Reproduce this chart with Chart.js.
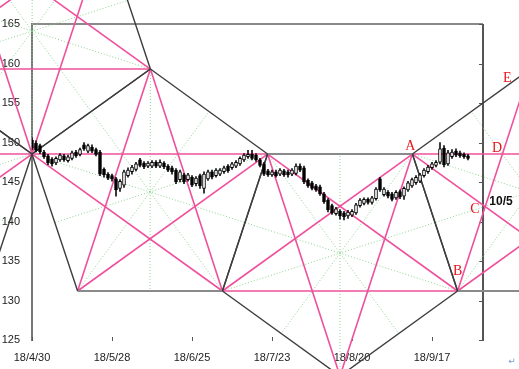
<!DOCTYPE html>
<html><head><meta charset="utf-8">
<style>html,body{margin:0;padding:0;background:#fff;}canvas{display:block;}</style>
<script src="https://cdn.jsdelivr.net/npm/chart.js@4.4.1/dist/chart.umd.min.js"></script>
</head><body>
<canvas id="c" width="519" height="369"></canvas>
<script>
// ---- data (trading-day index, price) ----
const tickDays = [0, 20, 40, 60, 80, 100];
const tickLabels = ['18/4/30', '18/5/28', '18/6/25', '18/7/23', '18/8/20', '18/9/17'];
const priceTicks = [125, 130, 135, 140, 145, 150, 155, 160, 165];

const open = [150.3,149.9,149.6,148.8,148.3,147.9,147.4,147.8,148.3,147.7,
  148.0,148.8,148.5,149.7,148.9,149.4,149.1,148.8,146.6,146.0,
  145.8,145.4,144.2,144.6,145.8,146.3,146.6,147.8,147.4,147.0,
  147.0,147.5,147.0,147.4,147.0,146.8,146.5,145.3,145.9,145.3,
  145.6,144.8,145.8,144.2,145.4,146.3,145.8,146.0,146.3,147.0,
  146.8,147.0,147.3,147.8,148.2,148.5,148.4,147.8,147.3,146.4,
  145.9,146.3,146.0,146.4,146.3,146.0,146.1,147.0,146.8,145.2,
  144.9,144.5,144.4,143.5,142.7,142.0,141.0,141.3,141.1,140.7,
  140.8,141.1,142.0,142.3,142.8,142.4,142.9,145.4,143.4,143.7,
  143.5,143.0,143.8,143.2,144.0,144.5,144.9,145.1,145.8,146.3,
  146.8,147.1,147.5,149.3,147.3,148.2,148.9,148.7,148.5,148.3];
const high = [150.6,150.2,149.8,149.0,148.5,148.1,148.2,148.6,148.5,148.4,
  148.9,149.0,149.3,150.0,149.8,149.7,149.3,149.0,146.8,146.2,
  146.0,145.6,145.3,146.5,146.8,147.1,147.5,148.0,147.6,147.6,
  147.7,147.7,147.8,147.6,147.2,147.0,146.7,146.5,146.1,146.1,
  145.8,145.7,146.0,146.3,146.5,146.5,146.7,146.7,147.0,147.2,
  147.5,147.7,148.2,148.6,149.0,149.0,148.6,148.0,147.5,146.6,
  146.5,146.5,146.7,146.6,146.5,146.7,147.3,147.3,147.0,145.4,
  145.1,144.7,144.6,143.7,142.9,142.2,141.8,141.5,141.3,141.4,
  141.5,142.3,142.9,143.0,143.0,143.2,144.3,145.6,144.3,143.9,
  143.7,143.9,144.0,144.4,145.1,145.5,145.8,146.1,146.7,147.1,
  147.5,147.7,150.0,149.6,149.0,149.1,149.2,148.9,148.7,148.5];
const low = [149.1,148.8,148.6,148.0,147.2,147.0,147.2,147.6,147.6,147.5,
  147.8,148.1,148.3,149.0,148.7,148.7,148.3,145.8,145.6,145.3,
  145.1,143.2,143.8,144.3,145.6,146.0,146.4,146.9,146.7,146.8,
  146.8,146.8,146.8,146.7,146.3,146.0,144.8,145.0,144.8,145.1,
  144.4,144.5,144.2,143.6,145.2,145.4,145.6,145.8,146.1,146.2,
  146.6,146.8,147.1,147.6,148.0,147.8,147.6,146.9,145.8,145.7,
  145.7,145.6,145.8,145.7,145.6,145.8,145.9,146.3,144.8,144.3,
  144.0,143.8,143.3,142.3,141.2,140.9,140.8,140.3,140.2,140.4,
  140.6,140.9,141.8,142.1,142.2,142.2,142.7,143.8,143.2,143.0,
  142.6,142.8,142.9,142.8,143.8,144.3,144.7,144.9,145.6,146.1,
  146.6,146.9,147.3,146.9,147.1,148.0,148.2,148.1,148.0,147.8];
const close = [149.3,149.0,148.8,148.2,147.4,147.3,148.0,148.4,147.8,148.2,
  148.7,148.3,149.1,149.2,149.6,148.9,148.5,146.0,145.9,145.5,
  145.4,144.0,145.1,146.3,146.5,146.9,147.3,147.1,146.9,147.4,
  147.5,147.0,147.5,146.9,146.5,146.3,145.0,146.3,145.0,145.9,
  144.6,145.5,144.5,146.0,146.3,145.6,146.5,146.5,146.8,146.4,
  147.3,147.5,148.0,148.4,148.5,148.0,147.8,147.1,146.0,145.9,
  146.3,145.8,146.5,145.9,145.9,146.5,147.0,146.5,145.0,144.5,
  144.2,144.0,143.5,142.5,141.5,141.1,141.6,140.7,140.6,141.2,
  141.3,142.1,142.7,142.8,142.4,143.0,144.1,144.0,144.1,143.2,
  142.8,143.7,143.1,144.2,144.9,145.3,145.6,145.9,146.5,146.9,
  147.3,147.5,149.2,147.2,148.7,148.8,148.4,148.3,148.2,148.0];

// pentagon vertices (day index, price)
const vtxName  = ['P0','T1','M','BL','BR','A','B','Bot','T2','R2','LR2','T1L','TLu','TRu','L0','LR0','LL0'];
const vtxDay   = [0, 29.6, 58.9, 11.4, 47.6, 95.1, 106.4, 77.0, 124.55, 154.0, 142.6, -29.5, -18.1, 18.2, -58.9, -11.4, -47.5];
const vtxPrice = [148.54, 159.3, 148.54, 131.2, 131.2, 148.54, 131.2, 120.44, 159.3, 148.54, 131.2, 159.3, 176.64, 176.64, 148.54, 131.2, 131.2];
const pentU0 = ['L0','T1L','P0','LR0','LL0'];
const pentDu = ['TLu','TRu','T1','P0','T1L'];
const pentU1 = ['P0','T1','M','BR','BL'];
const pentD1 = ['M','A','B','Bot','BR'];
const pentU2 = ['A','T2','R2','LR2','B'];

const markText = ['A','B','C','D','E','10/5'];
const xMaxDay = 112.75;

// ---- build ----
function V(n){ const i = vtxName.indexOf(n); return {x: vtxDay[i], y: vtxPrice[i]}; }
const PINK = '#ef509c', DARK = '#3d3d3d', GRAYH = '#8a8a8a', GREEN = 'rgba(130,205,135,0.9)';
const lineDs = [];
function seg(p, q, color, w, dash, order){
  lineDs.push({type:'line', data:[p, q], borderColor:color, borderWidth:w, borderDash:dash,
    pointRadius:0, fill:false, clip:false, order:order, tension:0});
}
[pentU0, pentDu, pentU1, pentD1, pentU2].forEach(names => {
  const P = names.map(V);
  for (let k = 0; k < 5; k++) {
    const a = P[k], b = P[(k+1)%5], c = P[(k+2)%5], d = P[(k+3)%5];
    const mid = {x:(c.x+d.x)/2, y:(c.y+d.y)/2};
    seg(a, mid, GREEN, 1, [1,2], 5);
    seg(a, c, PINK, 1.6, [], 4);
    const horiz = a.y === b.y;
    seg(a, b, horiz ? GRAYH : DARK, horiz ? 2 : 1.4, [], horiz ? 3 : 2);
  }
});

const days = open.map((_, i) => i);
const wickDs = {type:'bar', data: days.map(i => ({x:i, y:[low[i], high[i]]})),
  backgroundColor:'#111', barThickness:1, grouped:false, order:1, borderWidth:0};
const bodyDs = {type:'bar', data: days.map(i => ({x:i, y:[open[i], close[i]]})),
  backgroundColor: days.map(i => close[i] >= open[i] ? '#ffffff' : '#000000'),
  borderColor:'#000', borderWidth:1, borderSkipped:false, barThickness:3, grouped:false, order:0};

function px(chart, n){ const v = V(n); return [chart.scales.x.getPixelForValue(v.x), chart.scales.y.getPixelForValue(v.y)]; }
function lineAtX(p, q, x){ return p.y + (q.y - p.y) * (x - p.x) / (q.x - p.x); }

const deco = {
  id:'deco',
  beforeDatasetsDraw(chart){
    const {ctx, chartArea:a, scales:{x, y}} = chart;
    ctx.save();
    ctx.strokeStyle = GRAYH; ctx.lineWidth = 2;
    ctx.beginPath(); ctx.moveTo(a.left, a.top); ctx.lineTo(a.right, a.top); ctx.stroke();
    ctx.strokeStyle = '#555'; ctx.lineWidth = 2;
    ctx.beginPath(); ctx.moveTo(a.right, a.top); ctx.lineTo(a.right, a.bottom + 1); ctx.stroke();
    ctx.lineWidth = 1; ctx.strokeStyle = '#555';
    priceTicks.forEach(v => {
      const py = Math.round(y.getPixelForValue(v)) + 0.5;
      ctx.beginPath(); ctx.moveTo(a.right - 4, py); ctx.lineTo(a.right, py); ctx.stroke();
    });
    tickDays.forEach(d => {
      const xx = Math.round(x.getPixelForValue(d)) + 0.5;
      ctx.beginPath(); ctx.moveTo(xx, a.bottom - 3); ctx.lineTo(xx, a.bottom + 1); ctx.stroke();
    });
    ctx.restore();
  },
  afterDraw(chart){
    const {ctx, scales:{x, y}} = chart;
    ctx.save();
    ctx.textAlign = 'center'; ctx.textBaseline = 'alphabetic';
    ctx.fillStyle = '#e8141c'; ctx.font = '14px "Liberation Serif"';
    const [ax, ay] = px(chart, 'A');
    const [bx, by] = px(chart, 'B');
    const [ex, ey] = px(chart, 'T2');
    const cPrice = lineAtX(V('B'), V('T2'), xMaxDay);
    const cx = x.getPixelForValue(xMaxDay), cy = y.getPixelForValue(cPrice);
    const dy = y.getPixelForValue(V('A').y);
    ctx.fillText(markText[0], ax - 2, ay - 4);
    ctx.fillText(markText[1], bx, by - 16);
    ctx.fillText(markText[2], cx - 8, cy);
    ctx.fillText(markText[3], cx + 14, dy - 2);
    ctx.fillText(markText[4], ex - 23, ey + 13);
    ctx.fillStyle = '#111'; ctx.font = 'bold 12px "Liberation Sans"';
    ctx.fillText(markText[5], cx + 18, cy - 8);
    ctx.fillStyle = '#7a9cc6'; ctx.font = '9px "DejaVu Sans"';
    ctx.fillText('\u21b5', 512, 364);
    ctx.restore();
  }
};

new Chart(document.getElementById('c'), {
  type:'bar',
  data:{datasets:[bodyDs, wickDs, ...lineDs]},
  options:{
    responsive:false, animation:false, devicePixelRatio:1, events:[],
    layout:{padding:{top:24, right:36, left:0, bottom:0}},
    plugins:{legend:{display:false}, tooltip:{enabled:false}},
    scales:{
      x:{type:'linear', min:0, max:xMaxDay, offset:false,
        grid:{display:false, offset:false, drawTicks:false}, border:{display:false},
        afterBuildTicks(s){ s.ticks = tickDays.map(v => ({value:v})); },
        afterFit(s){ s.height = 29; },
        ticks:{autoSkip:false, maxRotation:0, padding:11, color:'#222',
          font:{family:'Liberation Sans', size:11},
          callback:(v) => tickLabels[tickDays.indexOf(v)] ?? ''}},
      y:{type:'linear', min:125, max:165,
        grid:{display:false, drawTicks:false}, border:{display:true, color:'#777', width:2},
        afterBuildTicks(s){ s.ticks = priceTicks.map(v => ({value:v})); },
        afterFit(s){ s.width = 32; },
        ticks:{padding:12, color:'#222', font:{family:'Liberation Sans', size:11}}}
    }
  },
  plugins:[deco]
});
</script>
</body></html>
